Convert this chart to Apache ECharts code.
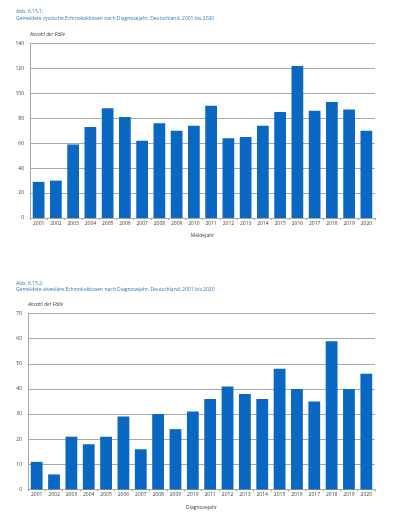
<!DOCTYPE html>
<html>
<head>
<meta charset="utf-8">
<script src="https://cdn.jsdelivr.net/npm/echarts@6/dist/echarts.min.js"></script>
<style>
html,body{margin:0;padding:0;background:#fff;}
#c{width:400px;height:522px;}
</style>
</head>
<body>
<div id="c"></div>
<script>
const years = ['2001','2002','2003','2004','2005','2006','2007','2008','2009','2010','2011','2012','2013','2014','2015','2016','2017','2018','2019','2020'];
const cysticCases = [29,30,59,73,88,81,62,76,70,74,90,64,65,74,85,122,86,93,87,70];
const alveolarCases = [11,6,21,18,21,29,16,30,24,31,36,41,38,36,48,40,35,59,40,46];
const title1a = 'Abb. 6.15.1:';
const title1b = 'Gemeldete zystische Echinokokkosen nach Diagnosejahr, Deutschland, 2001 bis 2020';
const title2a = 'Abb. 6.15.2:';
const title2b = 'Gemeldete alveoläre Echinokokkosen nach Diagnosejahr, Deutschland, 2001 bis 2020';
const yName = 'Anzahl der Fälle';
const xName1 = 'Meldejahr';
const xName2 = 'Diagnosejahr';

const FONT = 'Open Sans';
const gridColor = '#a8a8a8';
const barColor = '#0a67c2';
const titleColor = '#2f7ab9';
const textColor = '#404040';

function xAxis(gridIndex, name, gap) {
  return {
    type: 'category', gridIndex, data: years,
    name, nameLocation: 'middle', nameGap: gap,
    nameTextStyle: {fontSize: 5, color: textColor, fontFamily: FONT},
    axisLine: {lineStyle: {color: gridColor, width: 1}},
    axisTick: {show: true, length: 2, lineStyle: {color: gridColor}},
    axisLabel: {fontSize: 5, color: textColor, margin: 3, fontFamily: FONT, interval: 0}
  };
}
function yAxis(gridIndex, max, interval, gap) {
  return {
    type: 'value', gridIndex, min: 0, max, interval,
    name: yName, nameLocation: 'end', nameGap: gap,
    nameTextStyle: {fontSize: 5, color: textColor, fontStyle: 'italic', align: 'left', fontFamily: FONT},
    axisLine: {show: true, lineStyle: {color: gridColor, width: 1}},
    axisTick: {show: false},
    axisLabel: {fontSize: 5, color: textColor, margin: 6, fontFamily: FONT},
    splitLine: {lineStyle: {color: gridColor, width: 1}}
  };
}
const tStyle = {fontSize: 5, fontWeight: 'normal', color: titleColor, fontFamily: FONT};

const chart = echarts.init(document.getElementById('c'));
chart.setOption({
  animation: false,
  backgroundColor: '#fff',
  title: [
    {text: title1a, left: 16, top: 9.5, padding: 0, textStyle: tStyle},
    {text: title1b, left: 16, top: 16.5, padding: 0, textStyle: tStyle},
    {text: title2a, left: 16, top: 281, padding: 0, textStyle: tStyle},
    {text: title2b, left: 16, top: 287, padding: 0, textStyle: tStyle}
  ],
  grid: [
    {left: 30, right: 25, top: 43.5, height: 174.5},
    {left: 28, right: 25, top: 313.5, height: 176}
  ],
  xAxis: [xAxis(0, xName1, 15), xAxis(1, xName2, 16)],
  yAxis: [yAxis(0, 140, 20, 6), yAxis(1, 70, 10, 6)],
  series: [
    {type: 'bar', xAxisIndex: 0, yAxisIndex: 0, data: cysticCases, barWidth: '68%', itemStyle: {color: barColor}},
    {type: 'bar', xAxisIndex: 1, yAxisIndex: 1, data: alveolarCases, barWidth: '68%', itemStyle: {color: barColor}}
  ]
});
</script>
</body>
</html>
